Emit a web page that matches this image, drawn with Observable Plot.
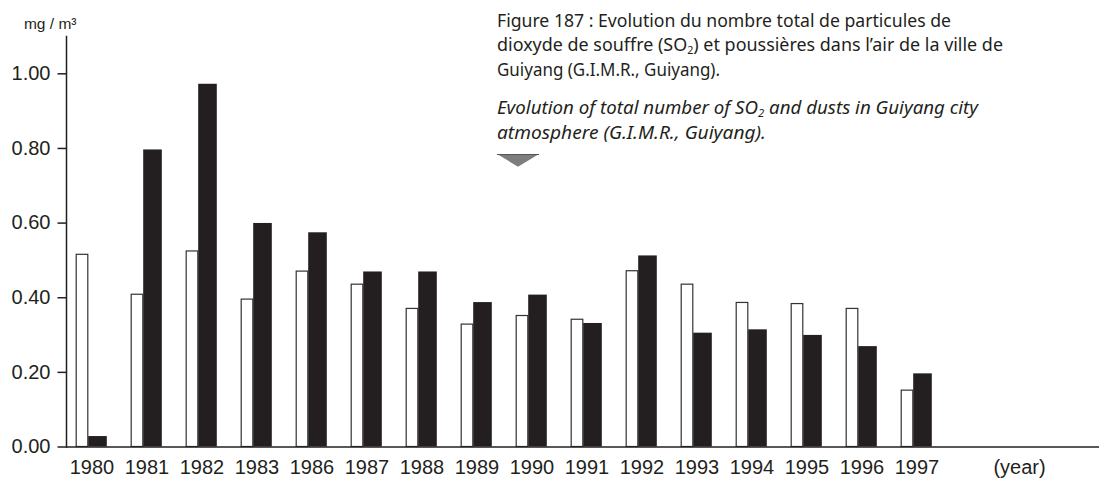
<!DOCTYPE html>
<html>
<head>
<meta charset="utf-8">
<script src="https://cdn.jsdelivr.net/npm/d3@7"></script>
<script src="https://cdn.jsdelivr.net/npm/@observablehq/plot@0.6"></script>
<style>
  html, body { margin: 0; padding: 0; background: #fff; }
  #wrap { position: relative; width: 1099px; height: 482px; overflow: hidden; }
  #title { position: absolute; left: 497px; top: 7.6px; font-family: "Noto Sans", "DejaVu Sans", sans-serif;
           font-size: 18.5px; line-height: 24.5px; color: #231f20; white-space: nowrap; }
  #title .ln { display: inline-block; transform-origin: 0 50%; }
  #title .it { font-style: italic; }
  #title sub { font-size: 0.6em; line-height: 0; vertical-align: -0.25em; }
  #title .gap { height: 14px; }
  #tri { position: absolute; left: 497px; top: 154px; }
</style>
</head>
<body>
<div id="wrap">
  <div id="chart"></div>
  <div id="title">
    <div><span class="ln" data-w="454">Figure 187 : Evolution du nombre total de particules de</span></div>
    <div><span class="ln" data-w="506">dioxyde de souffre (SO<sub>2</sub>) et poussières dans l’air de la ville de</span></div>
    <div><span class="ln" data-w="223">Guiyang (G.I.M.R., Guiyang).</span></div>
    <div class="gap"></div>
    <div><span class="ln it" data-w="481">Evolution of total number of SO<sub>2</sub> and dusts in Guiyang city</span></div>
    <div><span class="ln it" data-w="269">atmosphere (G.I.M.R., Guiyang).</span></div>
  </div>
  <svg id="tri" width="42" height="13" viewBox="0 0 42 13">
    <polygon points="0,0 42,0 21,12.7" fill="#7d7d7d"/>
    <line x1="0" y1="0.5" x2="42" y2="0.5" stroke="#555" stroke-width="1"/>
  </svg>
</div>
<script>
// Categories (years on the x axis)
const years = ["1980","1981","1982","1983","1986","1987","1988","1989","1990","1991","1992","1993","1994","1995","1996","1997"];
// White bars: SO2 (mg/m3)
const so2 = [0.515, 0.408, 0.524, 0.395, 0.470, 0.435, 0.370, 0.328, 0.351, 0.341, 0.471, 0.435, 0.386, 0.383, 0.370, 0.151];
// Black bars: dusts (mg/m3)
const dusts = [0.028, 0.796, 0.972, 0.599, 0.574, 0.469, 0.469, 0.387, 0.407, 0.331, 0.512, 0.305, 0.314, 0.299, 0.269, 0.196];
// Y tick values
const yTicks = [0, 0.2, 0.4, 0.6, 0.8, 1.0];
const yLabel = "mg / m³";
const xLabel = "(year)";

const rows = years.map((year, i) => ({year, so2: so2[i], dusts: dusts[i]}));
const ink = "#231f20";

const chart = Plot.plot({
  width: 1099,
  height: 482,
  marginLeft: 66,
  marginRight: 0,
  marginTop: 36,
  marginBottom: 35.5,
  style: {fontFamily: "'Liberation Sans', Arial, sans-serif", fontSize: "20px", color: ink, background: "#fff", overflow: "visible"},
  x: {type: "band", domain: years, range: [61.1, 947.2], paddingInner: 0, paddingOuter: 0},
  y: {domain: [0, 1.1]},
  marks: [
    Plot.barY(rows, {x: "year", y: "so2", fill: "#fff", stroke: "#333", strokeWidth: 1.2, insetLeft: 12.2, insetRight: 31.2}),
    Plot.barY(rows, {x: "year", y: "dusts", fill: ink, insetLeft: 24.2, insetRight: 12.2}),
    Plot.ruleY([0], {stroke: ink, strokeWidth: 1.5}),
    Plot.frame({anchor: "left", stroke: ink, strokeWidth: 1.5}),
    Plot.axisY({ticks: yTicks, tickFormat: d3.format(".2f"), tickSize: 8.5, tickPadding: 7.5, label: null, stroke: ink, strokeWidth: 1.5, fontSize: 20}),
    Plot.axisX({tickSize: 0, tickPadding: 13, label: null, fontSize: 20}),
    Plot.text([xLabel], {frameAnchor: "bottom-right", dx: -80, dy: 13, textAnchor: "middle", lineAnchor: "top", fontSize: 20, fill: ink}),
    Plot.text([yLabel], {frameAnchor: "top-left", dx: -16.3, dy: -19, textAnchor: "middle", lineAnchor: "top", fontSize: 15.5, fill: ink})
  ]
});
document.getElementById("chart").appendChild(chart);

function fitTitle() {
  document.querySelectorAll("#title .ln").forEach(el => {
    el.style.transform = "none";
    const w = el.getBoundingClientRect().width;
    const target = +el.dataset.w;
    if (w > 0) el.style.transform = `scaleX(${target / w})`;
  });
}
fitTitle();
if (document.fonts && document.fonts.ready) document.fonts.ready.then(fitTitle);
</script>
</body>
</html>
